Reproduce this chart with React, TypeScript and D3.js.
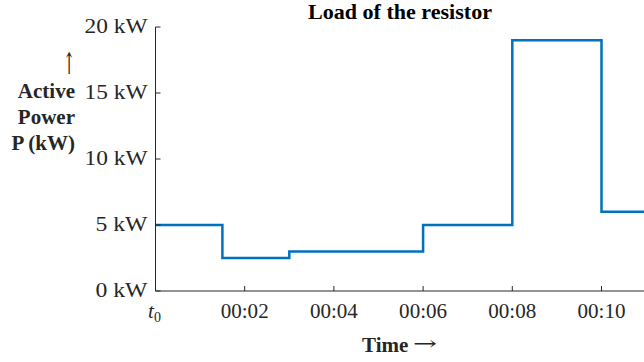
import { useRef, useEffect } from 'react';
import * as d3 from 'd3';

// Step load profile of the resistor (minutes from t0, kW)
const TIMES = [0, 1.5, 3, 6, 8, 10, 11];
const POWER = [5, 2.5, 3, 5, 19, 6, 6];

const Y_TICKS = [0, 5, 10, 15, 20];
const X_TICKS = [2, 4, 6, 8, 10];
const X_TICK_LABELS = ['00:02', '00:04', '00:06', '00:08', '00:10'];

const TITLE = 'Load of the resistor';
const Y_LABEL_LINES = ['Active', 'Power', 'P (kW)'];
const X_LABEL = 'Time';

const WIDTH = 644;
const HEIGHT = 362;
const LINE_COLOR = '#0072BD';
const AXIS_COLOR = '#262626';
const SERIF = '"Liberation Serif", "Times New Roman", serif';
const ARROW_FONT = '"DejaVu Serif", serif';

export default function App() {
  const svgRef = useRef<SVGSVGElement | null>(null);

  useEffect(() => {
    const svg = d3.select(svgRef.current);
    svg.selectAll('*').remove();

    const left = 155.5;
    const bottom = 291;
    const top = 27;

    const x = d3.scaleLinear().domain([0, 11]).range([left, left + 11 * 44.6]);
    const y = d3.scaleLinear().domain([0, 20]).range([bottom, top]);

    const data = TIMES.map((t, i) => ({ t, p: POWER[i] }));

    // step line
    const line = d3.line<{ t: number; p: number }>()
      .x((d) => x(d.t))
      .y((d) => y(d.p))
      .curve(d3.curveStepAfter);

    svg.append('path')
      .datum(data)
      .attr('d', line)
      .attr('fill', 'none')
      .attr('stroke', LINE_COLOR)
      .attr('stroke-width', 2.5)
      .attr('stroke-linejoin', 'miter');

    // axes lines
    const axisG = svg.append('g').attr('stroke', AXIS_COLOR).attr('stroke-width', 1);
    axisG.append('line')
      .attr('x1', left).attr('x2', left)
      .attr('y1', y(20)).attr('y2', bottom);
    axisG.append('line')
      .attr('x1', left).attr('x2', WIDTH)
      .attr('y1', bottom).attr('y2', bottom);

    // y ticks (inward)
    Y_TICKS.forEach((v) => {
      axisG.append('line')
        .attr('x1', left).attr('x2', left + 5)
        .attr('y1', y(v)).attr('y2', y(v));
      svg.append('text')
        .attr('x', left - 8)
        .attr('y', y(v) + 6)
        .attr('text-anchor', 'end')
        .attr('font-family', SERIF)
        .attr('font-size', 20)
        .attr('fill', AXIS_COLOR)
        .attr('textLength', v >= 10 ? 63 : 52)
        .attr('lengthAdjust', 'spacingAndGlyphs')
        .text(v + ' kW');
    });

    // x ticks (inward)
    X_TICKS.forEach((v, i) => {
      axisG.append('line')
        .attr('x1', x(v)).attr('x2', x(v))
        .attr('y1', bottom).attr('y2', bottom - 5);
      svg.append('text')
        .attr('x', x(v))
        .attr('y', 318)
        .attr('text-anchor', 'middle')
        .attr('font-family', SERIF)
        .attr('font-size', 20)
        .attr('fill', AXIS_COLOR)
        .attr('textLength', 48)
        .attr('lengthAdjust', 'spacingAndGlyphs')
        .text(X_TICK_LABELS[i]);
    });

    // t0 label
    const t0 = svg.append('text')
      .attr('x', x(0) - 1)
      .attr('y', 318)
      .attr('text-anchor', 'middle')
      .attr('font-family', SERIF)
      .attr('font-size', 21)
      .attr('fill', AXIS_COLOR);
    t0.append('tspan').attr('font-style', 'italic').text('t');
    t0.append('tspan').attr('font-size', 14).attr('dy', 4).text('0');

    // title
    svg.append('text')
      .attr('x', 400)
      .attr('y', 19)
      .attr('text-anchor', 'middle')
      .attr('font-family', SERIF)
      .attr('font-weight', 'bold')
      .attr('font-size', 22)
      .attr('fill', '#000')
      .attr('textLength', 184)
      .attr('lengthAdjust', 'spacingAndGlyphs')
      .text(TITLE);

    // y label: upward arrow, then three bold lines
    svg.append('text')
      .attr('x', 0)
      .attr('y', 0)
      .attr('text-anchor', 'middle')
      .attr('font-family', ARROW_FONT)
      .attr('font-size', 30)
      .attr('fill', AXIS_COLOR)
      .attr('transform', 'translate(69,74) scale(0.5,1)')
      .text('\u2191');
    Y_LABEL_LINES.forEach((s, i) => {
      svg.append('text')
        .attr('x', 75)
        .attr('y', 98 + i * 26)
        .attr('text-anchor', 'end')
        .attr('font-family', SERIF)
        .attr('font-weight', 'bold')
        .attr('font-size', 21)
        .attr('fill', AXIS_COLOR)
        .text(s);
    });

    // x label
    svg.append('text')
      .attr('x', 362)
      .attr('y', 352)
      .attr('font-family', SERIF)
      .attr('font-weight', 'bold')
      .attr('font-size', 21)
      .attr('fill', AXIS_COLOR)
      .text(X_LABEL);
    svg.append('text')
      .attr('x', 437)
      .attr('y', 350)
      .attr('text-anchor', 'end')
      .attr('font-family', ARROW_FONT)
      .attr('font-size', 20)
      .attr('fill', AXIS_COLOR)
      .attr('textLength', 24)
      .attr('lengthAdjust', 'spacingAndGlyphs')
      .text('\u2192');
  }, []);

  return (
    <svg
      ref={svgRef}
      width={WIDTH}
      height={HEIGHT}
      style={{ position: 'absolute', left: 0, top: 0, background: '#fff' }}
    />
  );
}
